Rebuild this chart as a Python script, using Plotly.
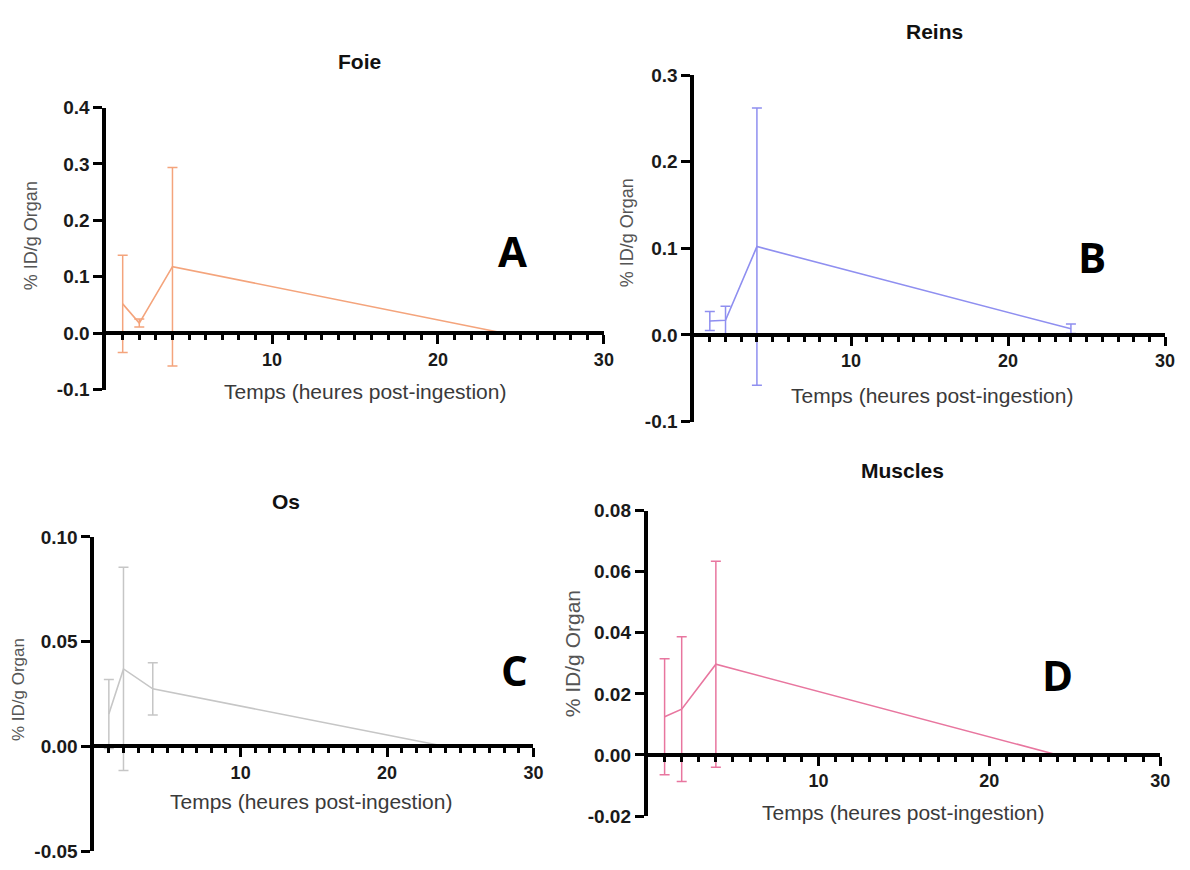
import plotly.graph_objects as go

# ---------------- data ----------------
hours = [1, 2, 4, 24]

foie_mean = [0.052, 0.018, 0.118, 0.0]
foie_err = [0.086, 0.007, 0.176, 0.0]

reins_mean = [0.016, 0.017, 0.102, 0.007]
reins_err = [0.011, 0.016, 0.160, 0.0055]

os_mean = [0.0155, 0.037, 0.0275, 0.0]
os_err = [0.0165, 0.0485, 0.0125, 0.0]

muscles_mean = [0.0125, 0.015, 0.0297, 0.0]
muscles_err = [0.019, 0.0237, 0.0337, 0.0]

x_major = [10, 20, 30]
x_major_text = ["10", "20", "30"]
x_minor = [h for h in range(1, 30) if h not in (10, 20)]

foie_yticks = [-0.1, 0.0, 0.1, 0.2, 0.3, 0.4]
reins_yticks = [-0.1, 0.0, 0.1, 0.2, 0.3]
os_yticks = [-0.05, 0.0, 0.05, 0.10]
muscles_yticks = [-0.02, 0.0, 0.02, 0.04, 0.06, 0.08]

titles = ["Foie", "Reins", "Os", "Muscles"]
letters = ["A", "B", "C", "D"]
x_title = "Temps (heures post-ingestion)"
y_title = "% ID/g Organ"

W, H = 1190, 870

# ---------------- layout specs (pixel geometry) ----------------
panels = [
    dict(mean=foie_mean, err=foie_err, yticks=foie_yticks, fmt="{:.1f}", color="#F4A47C",
         px=(107, 609), py=(100, 389), title=(363, 53), xt=(368, 391), yt=(32, 231), yts=18,
         let=(517, 246)),
    dict(mean=reins_mean, err=reins_err, yticks=reins_yticks, fmt="{:.1f}", color="#8F8FF0",
         px=(700, 1175), py=(66.7, 421.7), title=(942, 22), xt=(940, 395), yt=(633, 228), yts=18,
         let=(1101, 253)),
    dict(mean=os_mean, err=os_err, yticks=os_yticks, fmt="{:.2f}", color="#C6C6C6",
         px=(95, 538), py=(540, 862), title=(288, 504), xt=(314, 811), yt=(18, 696), yts=17,
         let=(519, 676)),
    dict(mean=muscles_mean, err=muscles_err, yticks=muscles_yticks, fmt="{:.2f}", color="#E8769F",
         px=(653, 1170), py=(513, 826), title=(910, 472), xt=(911, 822), yt=(577, 660), yts=21,
         let=(1066, 681)),
]

fig = go.Figure()
annotations = []
FONT = "Liberation Sans, Arial, sans-serif"

for i, p in enumerate(panels):
    k = "" if i == 0 else str(i + 1)
    ymin, ymax = min(p["yticks"]), max(p["yticks"])
    x0, x1 = p["px"][0] / W, p["px"][1] / W
    y0, y1 = 1 - p["py"][1] / H, 1 - p["py"][0] / H
    zero_pos = y0 + (0 - ymin) / (ymax - ymin) * (y1 - y0)

    fig.add_trace(go.Scatter(
        x=hours, y=p["mean"], mode="lines",
        line=dict(color=p["color"], width=1.6),
        error_y=dict(type="data", array=p["err"], symmetric=True, visible=True,
                     color=p["color"], thickness=1.5, width=5),
        xaxis="x" + k, yaxis="y" + k, showlegend=False, cliponaxis=False,
    ))

    fig.update_layout({
        "xaxis" + k: dict(
            domain=[x0, x1], range=[0, 30], anchor="free", position=zero_pos,
            showline=True, linecolor="black", linewidth=3.5, showgrid=False, zeroline=False,
            tickvals=x_major, ticktext=x_major_text, ticks="outside", ticklen=9,
            tickwidth=3, tickcolor="black",
            tickfont=dict(family=FONT, size=18, color="#1a1a1a", weight="bold"),
            minor=dict(tickvals=x_minor, ticks="outside", ticklen=5, tickwidth=3,
                       tickcolor="black", showgrid=False),
            fixedrange=True,
        ),
        "yaxis" + k: dict(
            domain=[y0, y1], range=[ymin, ymax], anchor="x" + k,
            showline=True, linecolor="black", linewidth=3.5, showgrid=False, zeroline=False,
            tickvals=p["yticks"], ticktext=[p["fmt"].format(v) for v in p["yticks"]],
            ticks="outside", ticklen=9, tickwidth=3, tickcolor="black",
            tickfont=dict(family=FONT, size=19, color="#1a1a1a", weight="bold"),
            fixedrange=True,
        ),
    })

    annotations += [
        dict(text=f"<b>{titles[i]}</b>", x=p["title"][0] / W, y=1 - p["title"][1] / H,
             xref="paper", yref="paper", showarrow=False, xanchor="center", yanchor="middle",
             font=dict(family=FONT, size=21, color="#111")),
        dict(text=x_title, x=p["xt"][0] / W, y=1 - p["xt"][1] / H,
             xref="paper", yref="paper", showarrow=False, xanchor="center", yanchor="middle",
             font=dict(family=FONT, size=21, color="#3a3a3a")),
        dict(text=y_title, x=p["yt"][0] / W, y=1 - p["yt"][1] / H, textangle=-90,
             xref="paper", yref="paper", showarrow=False, xanchor="center", yanchor="middle",
             font=dict(family=FONT, size=p["yts"], color="#555")),
        dict(text=f"<b>{letters[i]}</b>", x=p["let"][0] / W, y=1 - p["let"][1] / H,
             xref="paper", yref="paper", showarrow=False, xanchor="center", yanchor="middle",
             font=dict(family="Open Sans, sans-serif", size=42, color="black")),
    ]

fig.update_layout(
    width=W, height=H, margin=dict(l=0, r=0, t=0, b=0),
    paper_bgcolor="white", plot_bgcolor="white",
    annotations=annotations,
)

fig.write_html(
    "out.html",
    config={"displayModeBar": False},
    post_script="document.body.style.margin='0px'; document.body.style.overflow='hidden';",
)
